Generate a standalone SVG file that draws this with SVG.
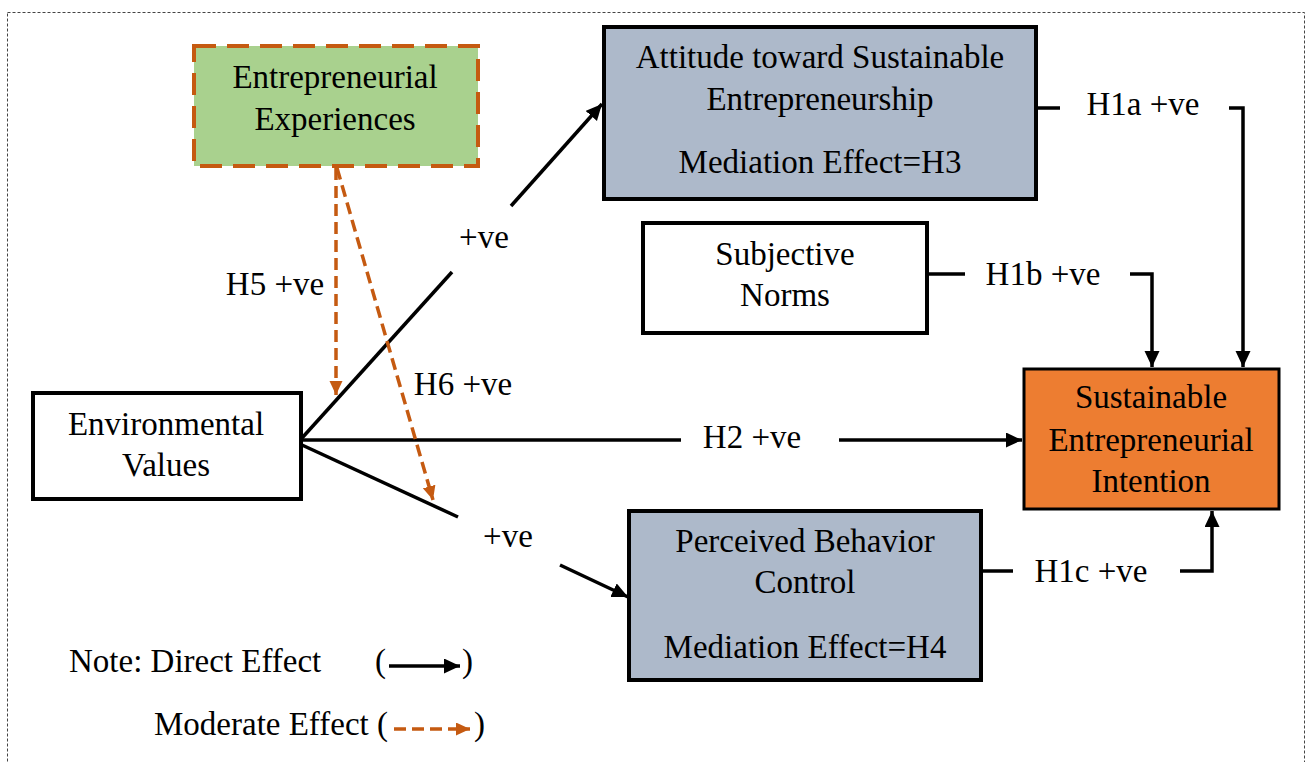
<svg xmlns="http://www.w3.org/2000/svg" width="1310" height="762" viewBox="0 0 1310 762">
<defs>
<style>
text{font-family:"Liberation Serif","Times New Roman",serif;font-size:33px;fill:#000}
.c{text-anchor:middle}
.node{stroke:#000;stroke-width:4}
.ln{fill:none;stroke:#000;stroke-width:3.5}
.mod{fill:none;stroke:#c55a11;stroke-width:3.5;stroke-dasharray:12,6}
</style>
<marker id="ab" markerUnits="userSpaceOnUse" markerWidth="18" markerHeight="16" refX="16" refY="7.5" orient="auto"><path d="M0,0 L16,7.5 L0,15 z" fill="#000"/></marker>
<marker id="ao" markerUnits="userSpaceOnUse" markerWidth="16" markerHeight="14" refX="14" refY="6.5" orient="auto"><path d="M0,0 L14,6.5 L0,13 z" fill="#c55a11"/></marker>
</defs>
<rect x="7.5" y="12.5" width="1297" height="770" fill="#fff" stroke="#444" stroke-width="1" stroke-dasharray="3,2"/>

<g id="connectors">
<line class="ln" x1="302" y1="438" x2="452" y2="272"/>
<line class="ln" x1="511" y1="206" x2="602" y2="104" marker-end="url(#ab)"/>
<line class="ln" x1="302" y1="445" x2="458" y2="517"/>
<line class="ln" x1="560" y1="565" x2="628" y2="597" marker-end="url(#ab)"/>
<line class="ln" x1="302" y1="440" x2="681" y2="440"/>
<line class="ln" x1="839" y1="440" x2="1022" y2="440" marker-end="url(#ab)"/>
<line class="ln" x1="1037" y1="108" x2="1060" y2="108"/>
<polyline class="ln" points="1229,108 1243,108 1243,367" marker-end="url(#ab)"/>
<line class="ln" x1="927" y1="274" x2="965" y2="274"/>
<polyline class="ln" points="1130,274 1152,274 1152,367" marker-end="url(#ab)"/>
<line class="ln" x1="982" y1="571" x2="1013" y2="571"/>
<polyline class="ln" points="1180,571 1212,571 1212,511" marker-end="url(#ab)"/>
<line class="mod" x1="336" y1="168" x2="336" y2="395" marker-end="url(#ao)"/>
<line class="mod" x1="337" y1="168" x2="433" y2="500" marker-end="url(#ao)"/>
<text class="c" x="484" y="248">+ve</text>
<text class="c" x="508" y="547">+ve</text>
<text class="c" x="752" y="448">H2 +ve</text>
<text class="c" x="1143" y="115">H1a +ve</text>
<text class="c" x="1043" y="285">H1b +ve</text>
<text class="c" x="1091" y="582">H1c +ve</text>
<text class="c" x="275" y="295">H5 +ve</text>
<text class="c" x="463" y="395">H6 +ve</text>
</g>

<g id="entrepreneurial-experiences">
<rect x="194" y="46" width="284" height="120" fill="#a9d18e" stroke="#c55a11" stroke-width="4" stroke-dasharray="22,11"/>
<text class="c" x="335" y="88">Entrepreneurial</text>
<text class="c" x="335" y="130">Experiences</text>
</g>

<g id="attitude">
<rect class="node" x="604" y="27" width="432" height="172" fill="#adb9ca"/>
<text class="c" x="820" y="68">Attitude toward Sustainable</text>
<text class="c" x="820" y="110">Entrepreneurship</text>
<text class="c" x="820" y="173">Mediation Effect=H3</text>
</g>

<g id="subjective-norms">
<rect class="node" x="643" y="223" width="284" height="110" fill="#fff"/>
<text class="c" x="785" y="265">Subjective</text>
<text class="c" x="785" y="306">Norms</text>
</g>

<g id="environmental-values">
<rect class="node" x="33" y="393" width="268" height="106" fill="#fff"/>
<text class="c" x="166" y="435">Environmental</text>
<text class="c" x="166" y="476">Values</text>
</g>

<g id="intention">
<rect x="1024" y="369" width="255" height="140" fill="#ed7d31" stroke="#000" stroke-width="3"/>
<text class="c" x="1151" y="408">Sustainable</text>
<text class="c" x="1151" y="451">Entrepreneurial</text>
<text class="c" x="1151" y="492">Intention</text>
</g>

<g id="pbc">
<rect class="node" x="629" y="511" width="352" height="169" fill="#adb9ca"/>
<text class="c" x="805" y="552">Perceived Behavior</text>
<text class="c" x="805" y="593">Control</text>
<text class="c" x="805" y="658">Mediation Effect=H4</text>
</g>

<g id="legend">
<text x="69" y="672">Note: Direct Effect</text>
<text x="375" y="672">(</text>
<line class="ln" x1="389" y1="666" x2="460" y2="666" stroke-width="2.5" marker-end="url(#ab)"/>
<text x="462" y="672">)</text>
<text x="154" y="735">Moderate Effect (</text>
<line class="mod" x1="394" y1="729" x2="470" y2="729" stroke-dasharray="14,9" marker-end="url(#ao)"/>
<text x="474" y="735">)</text>
</g>
</svg>
